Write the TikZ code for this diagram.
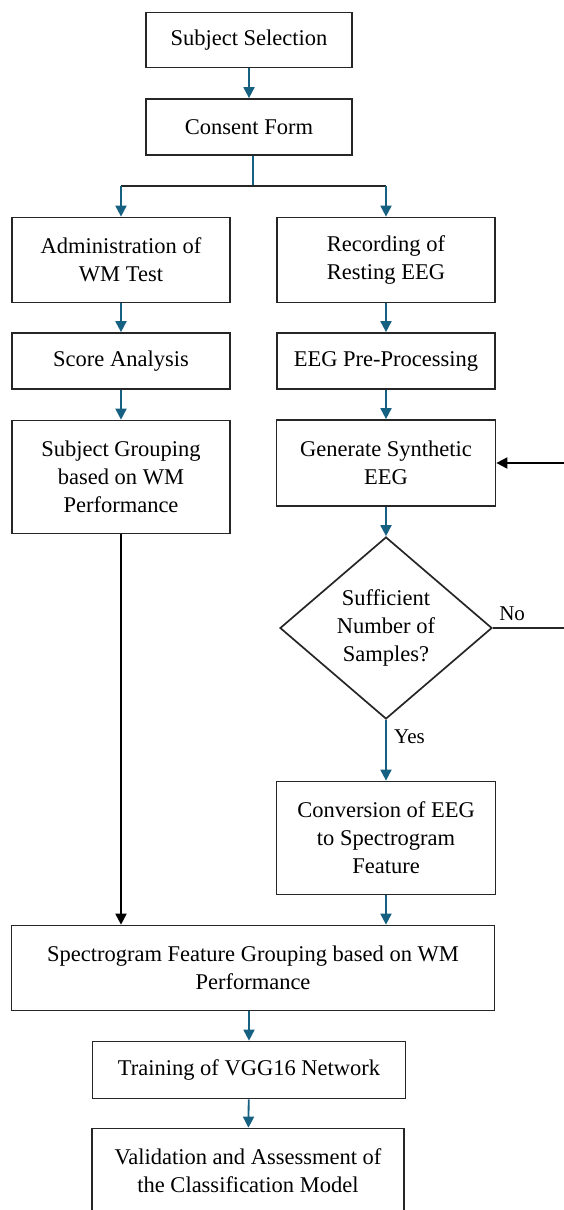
\documentclass[tikz,border=0pt]{standalone}
\usepackage{fontspec}
\setmainfont{Liberation Serif}
\usetikzlibrary{shapes.geometric,arrows.meta}

\definecolor{tealflow}{RGB}{22,96,130}

\begin{document}
\begin{tikzpicture}[x=1pt, y=-1pt]
    % Khung hình theo kích thước ảnh mẫu
    \useasboundingbox (0,0) rectangle (563,1210);

    % Styling
    \tikzset{
        b_step/.style={draw=black!85, line width=1.7pt, rectangle, align=center,
            inner sep=2pt, font=\fontsize{22.5}{28}\selectfont},
        b_dec/.style={draw=black!85, line width=1.7pt, diamond, align=center,
            inner sep=0pt, aspect=1.165, minimum width=212pt, minimum height=182pt,
            font=\fontsize{22.5}{28}\selectfont},
        a_flow/.style={draw=tealflow, line width=1.8pt, -{Triangle[length=11pt, width=11pt]}},
        a_black/.style={draw=black, line width=1.8pt, -{Triangle[length=11pt, width=11pt]}},
        l_black/.style={draw=black!85, line width=1.2pt},
        t_lab/.style={font=\fontsize{21}{26}\selectfont}
    }

    % Các khối chính
    \node[b_step, minimum width=206pt, minimum height=55pt] (sel) at (249,40) {Subject Selection};
    \node[b_step, minimum width=206pt, minimum height=56pt] (cons) at (249,127) {Consent Form};

    % Nhánh trái
    \node[b_step, minimum width=218pt, minimum height=85pt] (admin) at (121,260) {Administration of\\WM Test};
    \node[b_step, minimum width=218pt, minimum height=56pt] (score) at (121,361) {Score Analysis};
    \node[b_step, minimum width=218pt, minimum height=113pt] (group) at (121,477) {Subject Grouping\\based on WM\\Performance};

    % Nhánh phải
    \node[b_step, minimum width=218pt, minimum height=85pt] (rec) at (386,260) {Recording of\\Resting EEG};
    \node[b_step, minimum width=218pt, minimum height=56pt] (prep) at (386,361) {EEG Pre-Processing};
    \node[b_step, minimum width=219pt, minimum height=86pt] (synth) at (386,463) {Generate Synthetic\\EEG};
    \node[b_dec] (suff) at (386,628) {Sufficient\\Number of\\Samples?};
    \node[b_step, minimum width=219pt, minimum height=113pt] (conv) at (386,838) {Conversion of EEG\\to Spectrogram\\Feature};

    % Khối chung phía dưới
    \node[b_step, minimum width=483pt, minimum height=85pt] (spec) at (253,968) {Spectrogram Feature Grouping based on WM\\Performance};
    \node[b_step, minimum width=313pt, minimum height=57pt] (train) at (249,1070) {Training of VGG16 Network};
    \node[b_step, minimum width=312pt, minimum height=85pt] (valid) at (248,1171) {Validation and Assessment of\\the Classification Model};

    % Điểm rẽ nhánh và vòng lặp
    \coordinate (split) at (253,186);
    \coordinate (loop) at (600,628);

    % Mũi tên
    \draw[a_flow] (sel) -- (cons);
    \draw[draw=tealflow, line width=1.2pt] (split |- cons.south) -- (split);
    \draw[l_black] (admin.north |- split) -- (rec.north |- split);
    \foreach \b in {admin,rec} {
        \draw[a_flow] (\b.north |- split) -- (\b.north);
    }
    \draw[a_flow] (admin) -- (score);
    \draw[a_flow] (score) -- (group);
    \draw[a_flow] (rec) -- (prep);
    \draw[a_flow] (prep) -- (synth);
    \draw[a_flow] (synth) -- (suff);
    \draw[a_flow] (suff.south) -- node[t_lab, pos=0.27, right=4pt] {Yes} (conv.north);
    \draw[a_flow] (conv.south) -- (conv.south |- spec.north);
    \draw[a_black] (group.south) -- (group.south |- spec.north);
    \draw[l_black] (suff.east) -- node[t_lab, pos=0.18, above=3pt] {No} (loop);
    \draw[a_black] (loop) |- (synth.east);
    \draw[a_flow] (train.north |- spec.south) -- (train.north);
    \draw[a_flow] (train) -- (valid);
\end{tikzpicture}
\end{document}
